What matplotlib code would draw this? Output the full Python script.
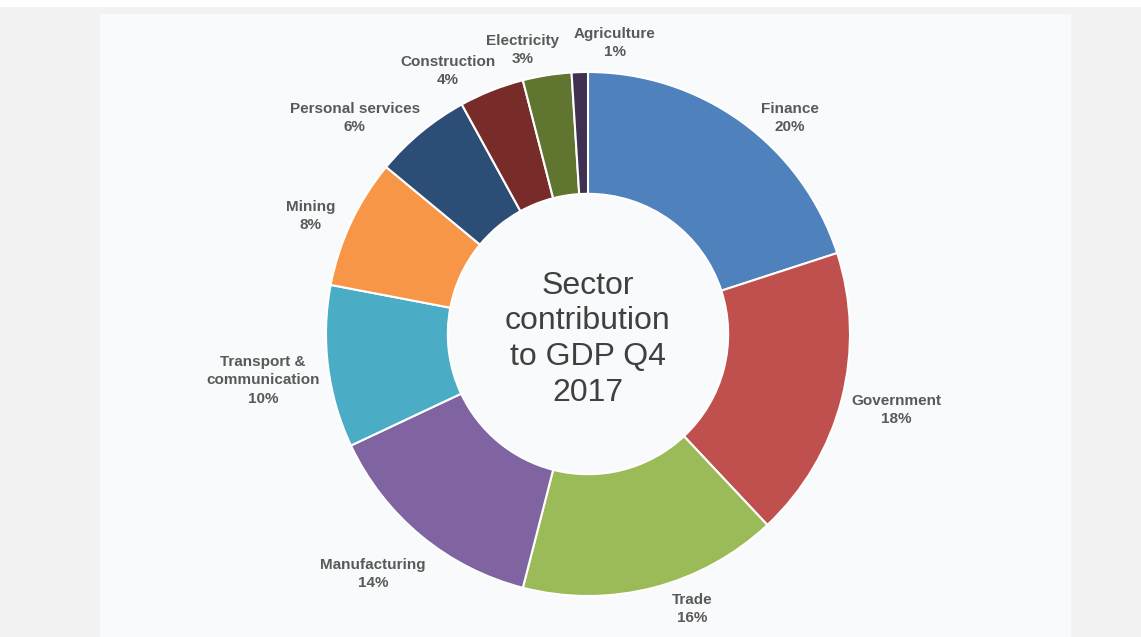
import matplotlib
matplotlib.use('Agg')
import matplotlib.pyplot as plt
from matplotlib.patches import Rectangle

# sector shares, clockwise from 12 o'clock
sectors = ['Finance', 'Government', 'Trade', 'Manufacturing',
           'Transport &\ncommunication', 'Mining', 'Personal services',
           'Construction', 'Electricity', 'Agriculture']
shares = [20, 18, 16, 14, 10, 8, 6, 4, 3, 1]
colors = ['#4f81bd', '#c0504d', '#9bbb59', '#8064a2', '#4bacc6',
          '#f79646', '#2c4d75', '#772c2a', '#5f7530', '#403152']

# label anchors (data units, radius 1 = outer edge of ring)
label_pos = [(0.77, 0.824), (1.176, -0.29), (0.397, -1.05), (-0.82, -0.916),
             (-1.24, -0.176), (-1.06, 0.45), (-0.89, 0.824), (-0.534, 1.004),
             (-0.248, 1.084), (0.103, 1.11)]

W, H = 1141, 637
fig = plt.figure(figsize=(W / 100, H / 100), dpi=100)
fig.patch.set_facecolor('#f2f2f2')

# lighter panel behind the chart
fig.add_artist(Rectangle((100 / W, 0), 970 / W, (H - 14) / H,
                         transform=fig.transFigure, color='#f9fafb', zorder=-2))
fig.add_artist(Rectangle((0, (H - 6) / H), 1, 6 / H,
                         transform=fig.transFigure, color='#ffffff', zorder=-2))

cx, cy, R = 588, 334, 262
side = 600
ax = fig.add_axes([(cx - side / 2) / W, (H - cy - side / 2) / H, side / W, side / H])
ax.set_zorder(2)
ax.set_facecolor('none')

ax.pie(shares, colors=colors, startangle=90, counterclock=False, radius=1,
       wedgeprops=dict(width=0.465, edgecolor='white', linewidth=1.5))

lim = side / 2 / R
ax.set_xlim(-lim, lim)
ax.set_ylim(-lim, lim)
ax.set_aspect('equal')
ax.axis('off')

for name, val, (x, y) in zip(sectors, shares, label_pos):
    ax.text(x, y, f'{name}\n{val}%', ha='center', va='center', fontsize=11,
            fontweight='bold', color='#595959', family='Liberation Sans',
            linespacing=1.4)

ax.text(0, -0.02, 'Sector\ncontribution\nto GDP Q4\n2017', ha='center', va='center',
        fontsize=23, color='#404040', family='Liberation Sans', linespacing=1.25)

fig.savefig('out.png', dpi=100, facecolor=fig.get_facecolor())
